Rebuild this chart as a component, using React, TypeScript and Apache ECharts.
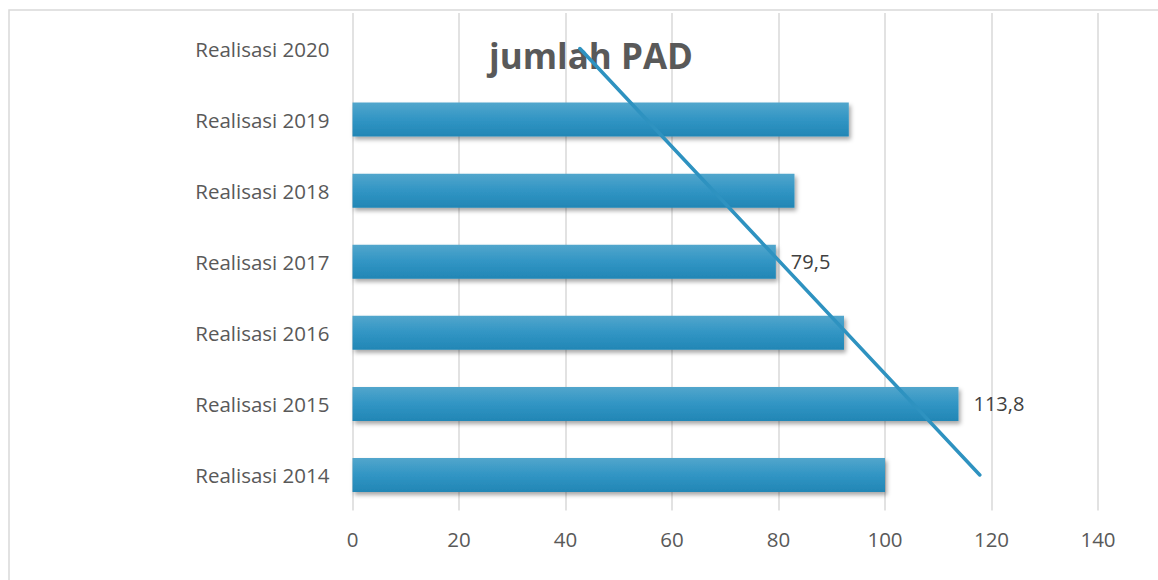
import React, { useEffect, useRef } from "react";
import * as echarts from "echarts";

const categories = [
  "Realisasi 2014",
  "Realisasi 2015",
  "Realisasi 2016",
  "Realisasi 2017",
  "Realisasi 2018",
  "Realisasi 2019",
  "Realisasi 2020",
];
const values = [100, 113.8, 92.3, 79.5, 83, 93.2, 0];
const labelledValues = ["Realisasi 2015", "Realisasi 2017"];
const trendStart = 117.8; // at Realisasi 2014
const trendEnd = 42.7; // at Realisasi 2020
const xTicks = { min: 0, max: 140, interval: 20 };
const title = "jumlah PAD";

const FONT = "'Open Sans', 'Liberation Sans', sans-serif";

export default function App() {
  const ref = useRef<HTMLDivElement>(null);
  useEffect(() => {
    if (!ref.current) return;
    const chart = echarts.init(ref.current, null, { renderer: "svg" });
    const barData = values.map((v, i) => ({
      value: v,
      label: {
        show: labelledValues.includes(categories[i]),
        position: "right",
        distance: 15,
        color: "#404040",
        fontSize: 20,
        fontFamily: FONT,
        formatter: (p: any) => String(p.value).replace(".", ","),
      },
    }));
    chart.setOption({
      animation: false,
      backgroundColor: "#fff",
      textStyle: { fontFamily: FONT },
      title: {
        text: title,
        left: 586,
        top: 33,
        z: 0,
        textAlign: "center",
        textStyle: { fontSize: 35, fontWeight: "bold", color: "#595959", fontFamily: FONT },
      },
      graphic: [
        {
          type: "rect",
          shape: { x: 9, y: 10, width: 1200, height: 620 },
          style: { fill: "none", stroke: "#d9d9d9", lineWidth: 1.5 },
          silent: true,
          z: -1,
        },
      ],
      grid: { left: 352.5, right: 60, top: 13, bottom: 69.5, containLabel: false },
      xAxis: {
        type: "value",
        min: xTicks.min,
        max: xTicks.max,
        interval: xTicks.interval,
        axisLine: { show: false },
        axisTick: { show: false },
        splitLine: { show: true, lineStyle: { color: "#d9d9d9", width: 1.5 } },
        axisLabel: { color: "#595959", fontSize: 20.5, margin: 18, fontFamily: FONT },
      },
      yAxis: {
        type: "category",
        data: categories,
        axisLine: { show: false },
        axisTick: { show: false },
        axisLabel: { color: "#595959", fontSize: 20.5, margin: 23, fontFamily: FONT },
      },
      series: [
        {
          type: "bar",
          data: barData,
          barWidth: 34,
          itemStyle: {
            color: new echarts.graphic.LinearGradient(0, 0, 0, 1, [
              { offset: 0, color: "#52a6cc" },
              { offset: 0.5, color: "#3195c4" },
              { offset: 1, color: "#2286b5" },
            ]),
            shadowColor: "rgba(0,0,0,0.35)",
            shadowBlur: 4,
            shadowOffsetX: 2,
            shadowOffsetY: 3,
          },
          z: 2,
        },
        {
          type: "line",
          data: [
            [trendStart, categories[0]],
            [trendEnd, categories[categories.length - 1]],
          ],
          symbol: "none",
          lineStyle: { color: "#2e92c0", width: 3.5, cap: "round" },
          z: 10,
        },
      ],
    });
    return () => chart.dispose();
  }, []);
  return (
    <div
      ref={ref}
      style={{ position: "fixed", left: 0, top: 0, width: 1158, height: 580 }}
    />
  );
}
